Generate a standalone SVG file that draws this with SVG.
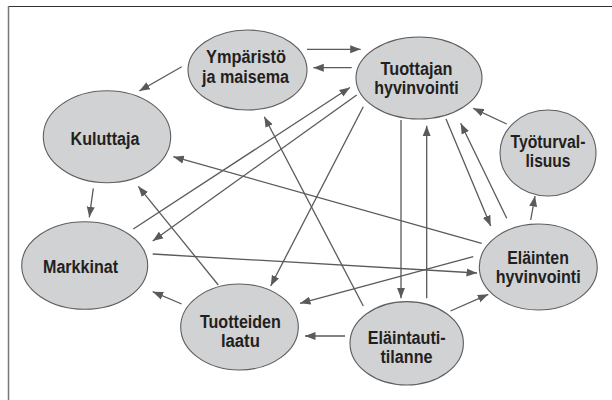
<svg xmlns="http://www.w3.org/2000/svg" width="612" height="400" viewBox="0 0 612 400">
<style>
.n{fill:#d1d2d4;stroke:#5e5e5e;stroke-width:1.1}
.t{font-family:"Liberation Sans",Arial,sans-serif;font-weight:bold;font-size:18px;fill:#231f20;text-anchor:middle}
.c line{stroke:#5a5a5a;stroke-width:1.3;marker-end:url(#a)}
</style>
<defs>
<marker id="a" markerUnits="userSpaceOnUse" markerWidth="11" markerHeight="9" viewBox="0 0 11 9" refX="10.5" refY="4.5" orient="auto">
<path d="M0,0.5 L10.5,4.5 L0,8.5 z" fill="#5a5a5a"/>
</marker>
</defs>
<rect width="612" height="400" fill="#fff"/>
<line x1="8" y1="6.5" x2="612" y2="6.5" stroke="#333" stroke-width="1.2"/>
<line x1="8.5" y1="6" x2="8.5" y2="400" stroke="#777" stroke-width="1.5"/>
<g class="c" id="connectors">
<line x1="307" y1="49.3" x2="360.7" y2="49.3"/>
<line x1="351.7" y1="67.7" x2="313.3" y2="67.7"/>
<line x1="181.7" y1="66.7" x2="139.3" y2="91"/>
<line x1="133.3" y1="229" x2="350" y2="87.5"/>
<line x1="356.7" y1="95" x2="152.7" y2="241"/>
<line x1="363.3" y1="106.7" x2="270.7" y2="286"/>
<line x1="363.3" y1="306" x2="264.3" y2="116.7"/>
<line x1="218.3" y1="285" x2="138.3" y2="186.3"/>
<line x1="93.3" y1="188.3" x2="89.3" y2="217.3"/>
<line x1="481.7" y1="243.3" x2="173.3" y2="156.7"/>
<line x1="152.7" y1="254" x2="477" y2="273"/>
<line x1="473.3" y1="256.7" x2="300" y2="303.3"/>
<line x1="181.7" y1="304" x2="152.7" y2="291.7"/>
<line x1="345" y1="336" x2="305" y2="336"/>
<line x1="450.5" y1="311" x2="488.3" y2="294.3"/>
<line x1="401" y1="120" x2="401" y2="298.3"/>
<line x1="426.7" y1="298.3" x2="426.7" y2="125.7"/>
<line x1="446" y1="119" x2="490.7" y2="226"/>
<line x1="506.7" y1="218.3" x2="460.7" y2="123.3"/>
<line x1="530.7" y1="220" x2="535" y2="196"/>
<line x1="506.7" y1="124" x2="473.3" y2="108.3"/>
</g>
<g id="ymparisto">
<ellipse class="n" cx="247.5" cy="70" rx="59.5" ry="40"/>
<text class="t" x="246" y="62.7" textLength="80" lengthAdjust="spacingAndGlyphs">Ympäristö</text>
<text class="t" x="245.5" y="82.7" textLength="87" lengthAdjust="spacingAndGlyphs">ja maisema</text>
</g>
<g id="tuottajan">
<ellipse class="n" cx="419" cy="78" rx="63" ry="41"/>
<text class="t" x="416.5" y="74.5" textLength="72" lengthAdjust="spacingAndGlyphs">Tuottajan</text>
<text class="t" x="416.5" y="93.5" textLength="84.5" lengthAdjust="spacingAndGlyphs">hyvinvointi</text>
</g>
<g id="kuluttaja">
<ellipse class="n" cx="107" cy="136.7" rx="63.7" ry="46"/>
<text class="t" x="105" y="145" textLength="69" lengthAdjust="spacingAndGlyphs">Kuluttaja</text>
</g>
<g id="tyoturvallisuus">
<ellipse class="n" cx="548" cy="153" rx="48" ry="43"/>
<text class="t" x="548" y="148.3" textLength="75" lengthAdjust="spacingAndGlyphs">Työturval-</text>
<text class="t" x="548" y="167.3" textLength="45" lengthAdjust="spacingAndGlyphs">lisuus</text>
</g>
<g id="markkinat">
<ellipse class="n" cx="84.7" cy="265.5" rx="63" ry="43.8"/>
<text class="t" x="80.5" y="273.3" textLength="75" lengthAdjust="spacingAndGlyphs">Markkinat</text>
</g>
<g id="elainten">
<ellipse class="n" cx="538.3" cy="267" rx="59" ry="43"/>
<text class="t" x="538" y="264" textLength="61.7" lengthAdjust="spacingAndGlyphs">Eläinten</text>
<text class="t" x="538.2" y="283" textLength="85" lengthAdjust="spacingAndGlyphs">hyvinvointi</text>
</g>
<g id="tuotteiden">
<ellipse class="n" cx="239.5" cy="327" rx="58.8" ry="43"/>
<text class="t" x="240.4" y="327.7" textLength="81" lengthAdjust="spacingAndGlyphs">Tuotteiden</text>
<text class="t" x="240.4" y="346.7" textLength="39" lengthAdjust="spacingAndGlyphs">laatu</text>
</g>
<g id="elaintauti">
<ellipse class="n" cx="406.7" cy="343.3" rx="56.7" ry="41.7"/>
<text class="t" x="406.7" y="343.5" textLength="78" lengthAdjust="spacingAndGlyphs">Eläintauti-</text>
<text class="t" x="406.5" y="362.5" textLength="52" lengthAdjust="spacingAndGlyphs">tilanne</text>
</g>
</svg>
